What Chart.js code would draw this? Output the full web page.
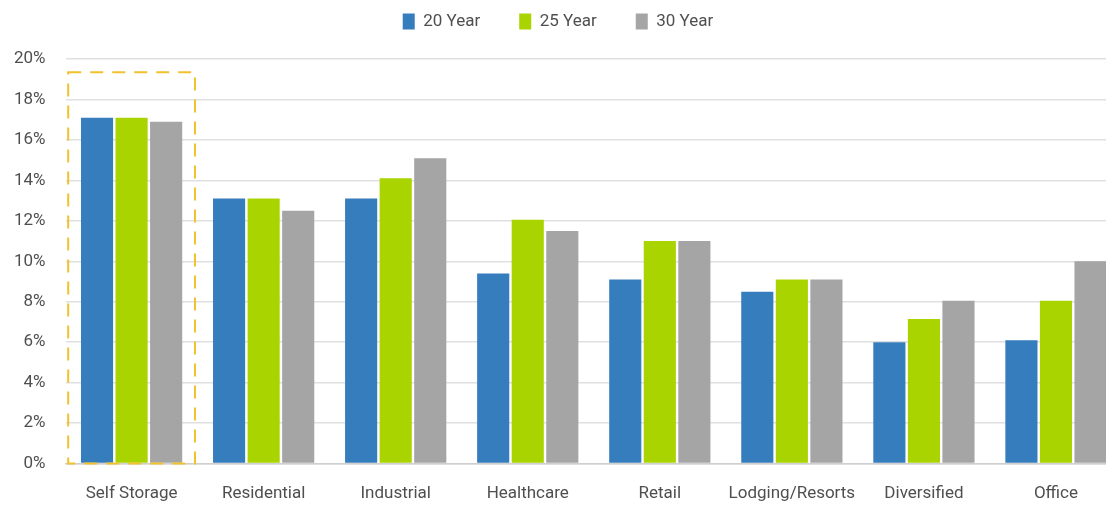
<!DOCTYPE html>
<html>
<head>
<meta charset="utf-8">
<script src="https://cdn.jsdelivr.net/npm/chart.js@4/dist/chart.umd.min.js"></script>
<style>
  html, body { margin: 0; padding: 0; background: #fff; overflow: hidden; }
  #wrap { width: 1122px; height: 507px; }
</style>
</head>
<body>
<div id="wrap"><canvas id="chart"></canvas></div>
<script>
// sectores y rentabilidades
var categories = ['Self Storage', 'Residential', 'Industrial', 'Healthcare', 'Retail', 'Lodging/Resorts', 'Diversified', 'Office'];
var seriesNames = ['20 Year', '25 Year', '30 Year'];
var year20 = [17.1, 13.1, 13.1, 9.4, 9.1, 8.5, 6.0, 6.1];
var year25 = [17.1, 13.1, 14.1, 12.05, 11.0, 9.1, 7.15, 8.05];
var year30 = [16.9, 12.5, 15.1, 11.5, 11.0, 9.1, 8.05, 10.0];
var yTicks = [0, 2, 4, 6, 8, 10, 12, 14, 16, 18, 20];

var colors = ['#367DBE', '#A9D400', '#A5A5A5'];
var textColor = '#4f4f4f';
var fontFamily = "Roboto, sans-serif";

// mas espacio debajo de la leyenda
var legendSpace = {
    id: 'legendSpace',
    beforeInit: function (chart) {
        var fit = chart.legend.fit;
        chart.legend.fit = function () {
            fit.call(chart.legend);
            this.height += 19;
        };
    }
};

// recuadro punteado alrededor de la primera categoria
var highlightBox = {
    id: 'highlightBox',
    afterDatasetsDraw: function (chart) {
        var x = chart.scales.x, y = chart.scales.y;
        var ctx = chart.ctx;
        var step = x.getPixelForValue(1) - x.getPixelForValue(0);
        var cx = x.getPixelForValue(0);
        var left = cx - step * 0.48;
        var right = cx + step * 0.48;
        var top = y.getPixelForValue(19.35);
        var bottom = y.getPixelForValue(0);
        ctx.save();
        ctx.strokeStyle = '#F2C12E';
        ctx.lineWidth = 2;
        ctx.setLineDash([13, 9]);
        ctx.strokeRect(left, top, right - left, bottom - top);
        ctx.restore();
    }
};

var ctx = document.getElementById('chart').getContext('2d');
var chart = new Chart(ctx, {
    type: 'bar',
    data: {
        labels: categories,
        datasets: [year20, year25, year30].map(function (vals, i) {
            return {
                label: seriesNames[i],
                data: vals,
                backgroundColor: colors[i],
                borderWidth: 0,
                barPercentage: 0.93,
                categoryPercentage: 0.785
            };
        })
    },
    options: {
        responsive: true,
        maintainAspectRatio: false,
        animation: false,
        layout: { padding: { left: -6, right: 0, top: -26, bottom: -17 } },
        plugins: {
            legend: {
                position: 'top',
                labels: {
                    boxWidth: 12,
                    boxHeight: 16,
                    padding: 39,
                    color: textColor,
                    font: { family: fontFamily, size: 17 }
                }
            },
            tooltip: { enabled: false }
        },
        scales: {
            x: {
                grid: { display: false, drawTicks: false },
                border: { display: true, color: '#cfcfcf', width: 1.5 },
                ticks: {
                    color: textColor,
                    padding: 20,
                    maxRotation: 0,
                    minRotation: 0,
                    autoSkip: false,
                    font: { family: fontFamily, size: 17 }
                }
            },
            y: {
                min: 0,
                max: 20,
                afterBuildTicks: function (axis) {
                    axis.ticks = yTicks.map(function (v) { return { value: v }; });
                },
                grid: { color: '#e0e0e0', lineWidth: 1.5, drawTicks: false },
                border: { display: false },
                ticks: {
                    color: textColor,
                    padding: 20,
                    font: { family: fontFamily, size: 17 },
                    callback: function (v) { return v + '%'; }
                }
            }
        }
    },
    plugins: [legendSpace, highlightBox]
});
</script>
</body>
</html>
